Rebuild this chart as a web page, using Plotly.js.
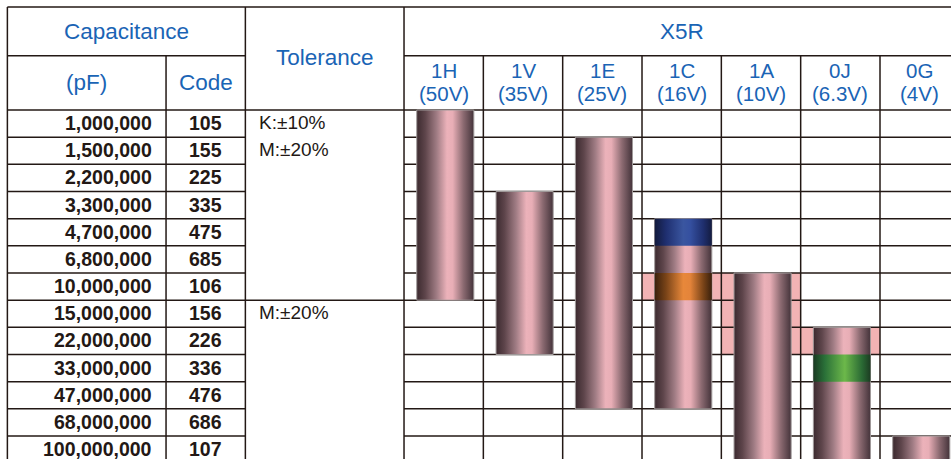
<!DOCTYPE html>
<html>
<head>
<meta charset="utf-8">
<script src="https://cdn.plot.ly/plotly-3.0.1.min.js"></script>
<style>html,body{margin:0;padding:0;background:#fff;}#chart{width:951px;height:459px;}</style>
</head>
<body>
<div id="chart"></div>
<script>
// ---------- data ----------
const capacitance = ['1,000,000','1,500,000','2,200,000','3,300,000','4,700,000','6,800,000','10,000,000',
  '15,000,000','22,000,000','33,000,000','47,000,000','68,000,000','100,000,000'];
const codes = ['105','155','225','335','475','685','106','156','226','336','476','686','107'];
const tolText = ['K:±10%','M:±20%','M:±20%'];
const tolRow = [0, 1, 7];
const voltCodes = ['1H','1V','1E','1C','1A','0J','0G'];
const voltRatings = ['(50V)','(35V)','(25V)','(16V)','(10V)','(6.3V)','(4V)'];
const barFrom = [0, 3, 1, 4, 6, 8, 12];   // first row index covered
const barTo   = [6, 8, 10, 10, 12, 12, 12]; // last row index covered
const bandCol = [3, 3, 5];
const bandRow = [4, 6, 9];
const bandKind = ['blue', 'orange', 'green'];
const hlCol = [3, 4, 4, 4, 5];
const hlRow = [6, 6, 7, 8, 8];

// ---------- styles ----------
const INK = '#231815';
const BLUE_TXT = '#1a64b5';
const FONT = 'Liberation Sans, Arial, Helvetica, sans-serif';
const scales = {
  pink:   [[0,'#3c2a2f'],[0.15,'#5e454b'],[0.35,'#a07c84'],[0.53,'#ecb2ba'],[0.63,'#e8aeb6'],[0.82,'#8a6970'],[1,'#44333a']],
  blue:   [[0,'#121a3c'],[0.2,'#1f2f70'],[0.5,'#3a56a0'],[0.62,'#3550a0'],[0.85,'#1f2f6e'],[1,'#141c40']],
  orange: [[0,'#3a200c'],[0.2,'#7a4418'],[0.5,'#e8883a'],[0.62,'#e4843a'],[0.85,'#7a4418'],[1,'#3a200c']],
  green:  [[0,'#1a3a22'],[0.2,'#2a7038'],[0.55,'#6cb84a'],[0.85,'#2a6a34'],[1,'#1c3c22']]
};
const HW = 0.36, OFF = 0.02;
const nRows = capacitance.length;
const nCols = voltCodes.length;
const HEAD_TOP = -3.79, HEAD_MID = -2;
const X_LEFT = -5, X_CODE = -3, X_TOL = -2, X_V = 0;

const traces = [];
function rect(col, r0, r1, kind, outline) {
  const x0 = col + 0.5 + OFF - HW, x1 = col + 0.5 + OFF + HW;
  return {
    type: 'scatter', mode: 'lines', hoverinfo: 'skip', showlegend: false,
    x: [x0, x1, x1, x0, x0], y: [r0, r0, r1, r1, r0],
    fill: 'toself', fillcolor: '#e8aeb6',
    fillgradient: {type: 'horizontal', colorscale: scales[kind]},
    line: {color: outline ? '#a09a9a' : 'rgba(0,0,0,0)', width: outline ? 1 : 0}
  };
}
for (let i = 0; i < nCols; i++) traces.push(rect(i, barFrom[i], barTo[i] + 1, 'pink', true));
for (let i = 0; i < bandCol.length; i++) traces.push(rect(bandCol[i], bandRow[i], bandRow[i] + 1, bandKind[i], false));

// ---------- shapes ----------
const shapes = [];
for (let i = 0; i < hlCol.length; i++) {
  shapes.push({type: 'rect', layer: 'below', xref: 'x', yref: 'y', x0: hlCol[i], x1: hlCol[i] + 1,
    y0: hlRow[i], y1: hlRow[i] + 1, fillcolor: '#f2b3b4', line: {width: 0}});
}
const ln = (x0, y0, x1, y1) => shapes.push({type: 'line', layer: 'below', xref: 'x', yref: 'y',
  x0, y0, x1, y1, line: {color: INK, width: 1.5}});
const xRight = nCols;
ln(X_LEFT, HEAD_TOP, xRight, HEAD_TOP);
ln(X_LEFT, HEAD_MID, X_TOL, HEAD_MID);
ln(X_V, HEAD_MID, xRight, HEAD_MID);
ln(X_LEFT, 0, xRight, 0);
for (let r = 1; r <= nRows; r++) {
  ln(X_LEFT, r, X_TOL, r);
  ln(X_V, r, xRight, r);
}
for (let k = 1; k < tolRow.length; k++) if (tolRow[k] > tolRow[k-1] + 1) ln(X_TOL, tolRow[k], X_V, tolRow[k]);
ln(X_LEFT, HEAD_TOP, X_LEFT, nRows);
ln(X_CODE, HEAD_MID, X_CODE, nRows);
ln(X_TOL, HEAD_TOP, X_TOL, nRows);
ln(X_V, HEAD_TOP, X_V, nRows);
for (let i = 1; i <= nCols; i++) ln(i, HEAD_MID, i, nRows);

// ---------- annotations ----------
const ann = [];
const A = (text, x, y, size, color, bold, xanchor) => ann.push({text: bold ? '<b>' + text + '</b>' : text,
  x, y, xref: 'x', yref: 'y', showarrow: false, xanchor: xanchor || 'center', yanchor: 'middle',
  font: {family: FONT, size, color}});
A('Capacitance', (X_LEFT + X_TOL) / 2, -2.88, 22.5, BLUE_TXT);
A('(pF)', (X_LEFT + X_CODE) / 2, -1.0, 22.5, BLUE_TXT);
A('Code', (X_CODE + X_TOL) / 2, -1.0, 22.5, BLUE_TXT);
A('Tolerance', (X_TOL + X_V) / 2, -1.92, 22.5, BLUE_TXT);
A('X5R', (X_V + xRight) / 2, -2.88, 22.5, BLUE_TXT);
for (let i = 0; i < nCols; i++) {
  A(voltCodes[i], i + 0.5, -1.45, 20.5, BLUE_TXT);
  A(voltRatings[i], i + 0.5, -0.6, 20.5, BLUE_TXT);
}
for (let r = 0; r < nRows; r++) {
  A(capacitance[r], -3.15, r + 0.48, 19.5, INK, true, 'right');
  A(codes[r], (X_CODE + X_TOL) / 2, r + 0.48, 19.5, INK, true);
}
for (let k = 0; k < tolText.length; k++) A(tolText[k], -1.853, tolRow[k] + 0.47, 19, INK, false, 'left');

const layout = {
  width: 951, height: 459,
  margin: {l: 0, r: 0, t: 0, b: 0, pad: 0},
  paper_bgcolor: '#ffffff', plot_bgcolor: '#ffffff',
  showlegend: false,
  xaxis: {range: [-5.093, 6.895], showgrid: false, zeroline: false, showticklabels: false, showline: false, fixedrange: true},
  yaxis: {range: [12.845, -4.049], showgrid: false, zeroline: false, showticklabels: false, showline: false, fixedrange: true},
  shapes, annotations: ann
};
Plotly.newPlot('chart', traces, layout, {displayModeBar: false, staticPlot: true});
</script>
</body>
</html>
